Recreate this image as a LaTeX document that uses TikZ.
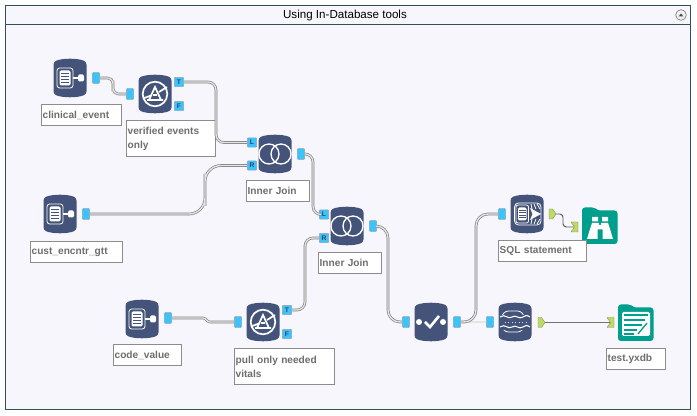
\documentclass[tikz,border=0pt]{standalone}
\usepackage{xcolor}
\usepackage{fontspec}
\setmainfont{Liberation Sans}
\usetikzlibrary{positioning}

\definecolor{toolblue}{HTML}{44537A}
\definecolor{anchorblue}{HTML}{3BC3FB}
\definecolor{anchorline}{HTML}{8FA3B5}
\definecolor{framegreen}{HTML}{2F5355}
\definecolor{panelbg}{HTML}{F6F6FC}
\definecolor{folderteal}{HTML}{009E8C}
\definecolor{outgreen}{HTML}{BCD96A}
\definecolor{labelgrey}{HTML}{6E6E6E}
\definecolor{wiregrey}{HTML}{808080}

\tikzset{
    barrel/.pic = {
        \fill[toolblue, rounded corners=2pt] (-16.5,-16) .. controls (-8,-20) and (8,-20) .. (16.5,-16)
            -- (16.5,16) .. controls (8,20) and (-8,20) .. (-16.5,16) -- cycle;
    },
    docglyph/.pic = {
        \draw[white, line width=.6pt, rounded corners=2pt] (-13,-10) rectangle (3,10);
        \fill[white, rounded corners=1pt] (-10.5,-7.5) rectangle (.5,7.5);
        \foreach \ly in {-5,-2,1,4}
            \draw[toolblue, line width=.6pt] (-9,\ly) -- (-1,\ly);
    },
    inputglyph/.pic = {
        \pic {barrel};
        \pic {docglyph};
        \draw[white, line width=.8pt] (3,0) -- (8,0);
        \fill[white, rounded corners=1pt] (8,-3.5) rectangle (14,3.5);
    },
    filterglyph/.pic = {
        \pic {barrel};
        \draw[white, line width=1.3pt] (0,0) circle (12.3);
        \draw[white, line width=1.3pt] (-8,6) -- (8,6) (-6,6) -- (0,-7) -- (6,6);
        \draw[white, line width=1.3pt] (-12,4.5) -- (-4,1.5) (4,-2) -- (12,-7);
        \draw[white, line width=.8pt] (-2,1) -- (2,1);
    },
    joinglyph/.pic = {
        \pic {barrel};
        \draw[white, line width=1pt] (-6,0) circle (10) (6,0) circle (10);
    },
    checkglyph/.pic = {
        \pic {barrel};
        \fill[white] (-12,0) circle (3) (12,0) circle (3);
        \draw[white, line width=2pt] (-6,0) -- (-1,5) -- (8,-6);
    },
    fuzzyglyph/.pic = {
        \pic {barrel};
        \draw[white, line width=.6pt, rounded corners=5pt] (-13,-11) rectangle (9,10);
        \fill[toolblue] (-15,-7) rectangle (15,8);
        \foreach \ly in {-5,5}
            \draw[white, line width=.8pt] (-15,\ly) .. controls (-10,\ly-4) and (-7,\ly+3) .. (-3,\ly)
                .. controls (1,\ly-3) and (4,\ly+3) .. (8,\ly) .. controls (10,\ly-2) and (12,\ly-2) .. (15,\ly);
        \draw[white!80!toolblue, line width=.6pt, dotted] (-10,0) -- (12,0);
    },
    sqlglyph/.pic = {
        \pic {barrel};
        \draw[white, line width=.6pt, rounded corners=3pt] (-12.5,-11) rectangle (14,11);
        \draw[white, line width=.6pt, rounded corners=1.5pt] (-11,-9) rectangle (1.5,9);
        \fill[white, rounded corners=1pt] (-9,-6.5) rectangle (-.5,6.5);
        \foreach \ly in {-4,-1.5,1,3.5}
            \draw[toolblue, line width=.6pt] (-8,\ly) -- (-1.5,\ly);
        \foreach \lx/\ldx in {4/1,7/2,10/3}
            \draw[white, line width=.6pt] (\lx,-10) -- (\lx+\ldx,-5) (\lx,10) -- (\lx+\ldx,5);
        \fill[white] (3,-6) -- (14,0) -- (3,6) -- (5.5,0) -- cycle;
    },
    folder/.pic = {
        \fill[folderteal, rounded corners=2.2pt] (-18,18) -- (-18,-18.5) -- (-5,-18.5) -- (-3,-15.5) -- (17.5,-15.5) -- (17.5,18) -- cycle;
    },
    browseglyph/.pic = {
        \pic {folder};
        \fill[white] (-8,-9) rectangle (-2,-4.5) (2,-9) rectangle (8,-4.5);
        \fill[white] (-8,-3) -- (-1.2,-3) -- (-1.2,-1) -- (1.2,-1) -- (1.2,-3) -- (8,-3) -- (10,3) -- (13,13) -- (2.5,13)
            -- (2.5,3.5) -- (-2.5,3.5) -- (-2.5,13) -- (-13,13) -- (-10,3) -- cycle;
    },
    outputglyph/.pic = {
        \pic {folder};
        \fill[white, rounded corners=1pt] (-14,-11) rectangle (14,13);
        \foreach \ly/\lx in {-8/12,-3/9,2/6,7/1,11/-2}
            \draw[folderteal, line width=1.7pt] (-12,\ly) -- (\lx,\ly);
        \draw[folderteal, line width=1pt] (2,11) -- (11,0);
    },
    greenoutpic/.pic = {
        \filldraw[fill=outgreen, draw=outgreen!70!black, line width=.3pt] (-3.5,-5) -- (0,-5) -- (3.5,0) -- (0,5) -- (-3.5,5) -- cycle;
    },
    greeninpic/.pic = {
        \filldraw[fill=outgreen, draw=outgreen!70!black, line width=.3pt] (-3.5,-5) -- (3.5,-5) -- (3.5,5) -- (-3.5,5) -- (0,0) -- cycle;
    },
    toolnode/.style = {rectangle, minimum width=24.75pt, minimum height=28.5pt, inner sep=0pt},
    anchornode/.style = {rectangle, draw=anchorline, fill=anchorblue, line width=.4pt, rounded corners=.6pt,
        minimum width=5.5pt, minimum height=8pt, inner sep=0pt},
    lettered/.style = {anchornode, minimum width=7pt, minimum height=7pt, font=\fontsize{5}{5}\selectfont\bfseries, text=toolblue!80!black},
    greennode/.style = {rectangle, minimum width=5.25pt, minimum height=7.5pt, inner sep=0pt},
    labelbox/.style = {rectangle, anchor=north west, draw=black!45, fill=white, line width=.5pt, inner xsep=1pt, inner ysep=1pt,
        font=\fontsize{7.6}{11}\selectfont\bfseries, text=labelgrey, align=left, text width=#1, minimum height=15.75pt},
    twolines/.style = {minimum height=27pt},
    wire/.style = {draw=wiregrey, double=black!10, line width=.5pt, double distance=1pt, rounded corners=6pt},
    thinwire/.style = {draw=black!65, line width=.7pt, rounded corners=2.5pt},
    x=0.75pt, y=-0.75pt
}

\begin{document}
\begin{tikzpicture}

\useasboundingbox (0,0) rectangle (697,416);
\fill[white] (0,0) rectangle (697,416);

% container
\draw[framegreen, fill=panelbg, line width=.7pt] (5,5) rectangle (690.5,409);
\draw[framegreen, line width=.7pt] (5,24) -- (690.5,24);
\node (title) at (345,16) {\fontsize{8.7}{10}\selectfont Using In-Database tools};
\node [circle, draw=black!50, fill=black!6, line width=.5pt, minimum size=8pt, inner sep=0pt] (collapse) at (681,15) {};
\fill[black!70] (678.5,16.5) -- (681,13.5) -- (683.5,16.5) -- cycle;

% tools
\node [toolnode] (clinical) at (70,78) {};
\node [toolnode] (filterA) at (155,94) {};
\node [toolnode] (cust) at (60,214) {};
\node [toolnode] (joinA) at (275,154) {};
\node [toolnode] (joinB) at (347,226) {};
\node [toolnode] (codeval) at (142,319) {};
\node [toolnode] (filterB) at (263,322) {};
\node [toolnode] (checktool) at (431,322) {};
\node [toolnode] (fuzzy) at (515,322) {};
\node [toolnode] (sqltool) at (527,214) {};
\node [toolnode] (browse) at (600,226) {};
\node [toolnode] (outfile) at (636,323) {};

\pic at (clinical) {inputglyph};
\pic at (cust) {inputglyph};
\pic at (codeval) {inputglyph};
\pic at (filterA) {filterglyph};
\pic at (filterB) {filterglyph};
\pic at (joinA) {joinglyph};
\pic at (joinB) {joinglyph};
\pic at (checktool) {checkglyph};
\pic at (fuzzy) {fuzzyglyph};
\pic at (sqltool) {sqlglyph};
\pic at (browse) {browseglyph};
\pic at (outfile) {outputglyph};

% labels
\node [labelbox=58pt] (lclinical) at (41,104.5) {clinical\_event};
\node [labelbox=64.5pt, twolines] (lfilterA) at (126,120.5) {verified events\\only};
\node [labelbox=67pt] (lcust) at (30,241.5) {cust\_encntr\_gtt};
\node [labelbox=45pt] (ljoinA) at (246,180.5) {Inner Join};
\node [labelbox=45pt] (ljoinB) at (318,252.5) {Inner Join};
\node [labelbox=49pt] (lcode) at (113,344.5) {code\_value};
\node [labelbox=73pt, twolines] (lfilterB) at (234,348.5) {pull only needed\\vitals};
\node [labelbox=64pt] (lsql) at (498,240.5) {SQL statement};
\node [labelbox=42pt] (lout) at (606,348.5) {test.yxdb};

% anchors
\node [anchornode] (clinicalO) at (96,78) {};
\node [anchornode] (filterAI) at (130,94) {};
\node [lettered] (filterAT) at (179,82) {T};
\node [lettered] (filterAF) at (179,106) {F};
\node [anchornode] (custO) at (86,214) {};
\node [lettered] (joinAL) at (252,142.5) {L};
\node [lettered] (joinAR) at (252,165.5) {R};
\node [anchornode] (joinAO) at (301,154) {};
\node [lettered] (joinBL) at (324,214.5) {L};
\node [lettered] (joinBR) at (324,238) {R};
\node [anchornode] (joinBO) at (373,226) {};
\node [anchornode] (codevalO) at (168,318) {};
\node [anchornode] (filterBI) at (238,322) {};
\node [lettered] (filterBT) at (287,310) {T};
\node [lettered] (filterBF) at (287,334) {F};
\node [anchornode] (checkI) at (406,322) {};
\node [anchornode] (checkO) at (457,322) {};
\node [anchornode] (fuzzyI) at (490,322) {};
\node [greennode] (fuzzyO) at (541.5,322.5) {};
\node [anchornode] (sqlI) at (502,214) {};
\node [greennode] (sqlO) at (552.5,214) {};
\node [greennode] (browseI) at (574.5,227) {};
\node [greennode] (outfileI) at (610.5,322.5) {};

% connectors
\coordinate (bendA) at (113,86);
\coordinate (bendB) at (216,110);
\coordinate (bendC) at (205,190);
\coordinate (bendD) at (313,184);
\coordinate (bendE) at (305,274);
\coordinate (bendF) at (388,274);
\coordinate (bendG) at (476,268);
\coordinate (kinkA) at (203,318);
\coordinate (kinkB) at (210,322);
\coordinate (bendI) at (563,220);

\draw[wire, rounded corners=4pt] (clinicalO) -| (bendA) |- (filterAI);
\draw[wire] (filterAT) -| (bendB) |- (joinAL);
\draw[wire, rounded corners=12pt] (custO) -| (bendC) |- (joinAR);
\draw[wire] (joinAO) -| (bendD) |- (joinBL);
\draw[wire] (filterBT) -| (bendE) |- (joinBR);
\draw[wire, sharp corners] (codevalO) -- (kinkA) to[out=0, in=180] (kinkB) -- (filterBI);
\draw[wire, rounded corners=9pt] (joinBO) -| (bendF) |- (checkI);
\draw[wire] (checkO) -- (fuzzyI);
\draw[wire, rounded corners=9pt] (checkO) -| (bendG) |- (sqlI);
\draw[thinwire] (sqlO.center) -| (bendI) |- (browseI.center);
\draw[thinwire, line width=1pt, draw=black!55] (fuzzyO.center) -- (outfileI.center);

\pic at (fuzzyO) {greenoutpic};
\pic at (sqlO) {greenoutpic};
\pic at (browseI) {greeninpic};
\pic at (outfileI) {greeninpic};

\end{tikzpicture}
\end{document}
